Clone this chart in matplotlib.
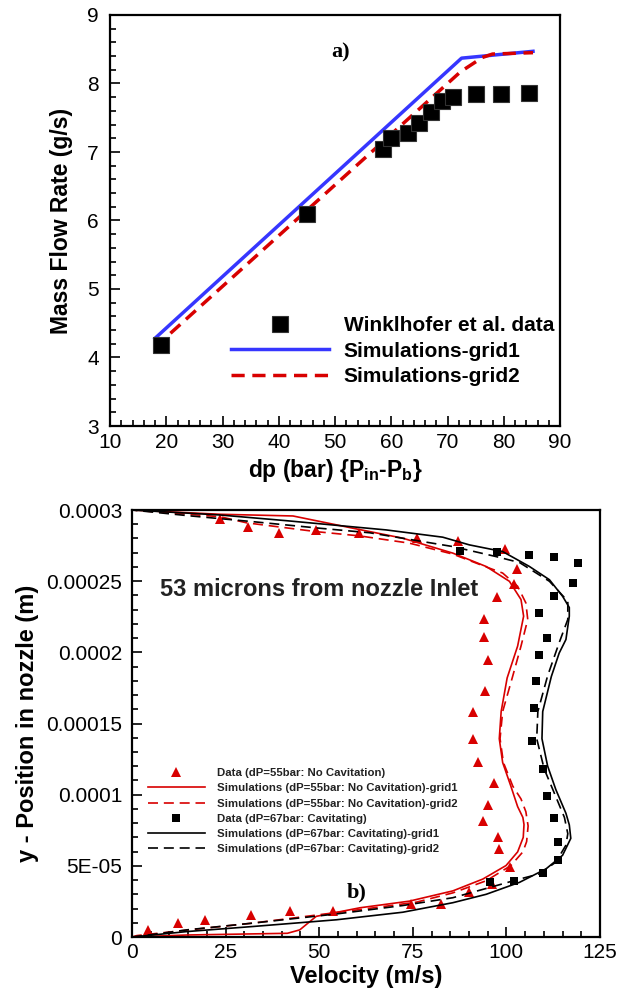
# Mass flow rate vs pressure drop, and velocity profiles in the nozzle
import numpy as np
import matplotlib
matplotlib.use('Agg')
import matplotlib.pyplot as plt
from matplotlib.ticker import MultipleLocator

plt.rcParams['font.family'] = ['Liberation Sans', 'DejaVu Sans']
plt.rcParams['mathtext.fontset'] = 'custom'
plt.rcParams['mathtext.rm'] = 'Liberation Sans:bold'
plt.rcParams['mathtext.bf'] = 'Liberation Sans:bold'

# ---- a) mass flow rate data ----
dp_data = [19, 45, 58.5, 60, 63, 65, 67, 69, 71, 75, 79.5, 84.5]
mfr_data = [4.18, 6.1, 7.05, 7.2, 7.28, 7.42, 7.58, 7.75, 7.8, 7.85, 7.85, 7.86]
dp_grid1 = [18, 72.5, 85.2]
mfr_grid1 = [4.28, 8.37, 8.47]
dp_grid2 = [18, 72.3, 76.2, 78, 85.2]
mfr_grid2 = [4.15, 8.17, 8.38, 8.43, 8.45]

# ---- b) velocity profiles (y in micrometres) ----
tri_v = [4.2, 12.3, 19.6, 31.9, 42.1, 53.7, 74.6, 82.4, 90, 96.1, 101, 98.1, 97.7, 93.7,
         95.2, 96.6, 92.5, 91, 91, 94.3, 95, 94.1, 94.1, 97.5, 101.9, 102.7, 99.5, 87.2,
         76.2, 60.6, 49.2, 39.3, 31, 23.5]
tri_y = [5, 9.8, 11.7, 15.2, 18.1, 18.1, 23.3, 23.3, 31.7, 37.1, 49.1, 62.1, 70, 81.5,
         92.4, 108.4, 122.6, 138.8, 158.4, 173, 194.4, 210.7, 223.5, 238.7, 248, 258.5,
         272.5, 278, 280, 284, 286, 284, 288, 294]
sq_v = [95.5, 102, 109.7, 113.9, 113.9, 112.8, 110.8, 109.9, 106.8, 107.5, 108, 108.8,
        110.8, 108.8, 112.8, 117.9, 119, 112.8, 106, 97.4, 87.5]
sq_y = [38.3, 39.5, 45, 53.8, 66.9, 83.4, 98.8, 117.9, 137.4, 161, 180, 198.1, 210.3,
        227.8, 239.4, 248.7, 262.7, 267.3, 268.5, 270.4, 271.5]

r1_v = [0, 14.6, 41.5, 44.8, 49.2, 60.8, 74.1, 85.7, 93.7, 99.9, 103, 104.5, 104.7, 104.4,
        103, 101.2, 99, 98.1, 98.6, 100.2, 103, 104.6, 103.9, 100.8, 94.6, 85.7, 72.3, 59,
        43, 23.5, 0]
r1_y = [0, 1.4, 2.6, 5, 14.5, 20.5, 25.2, 32.4, 40.7, 50.2, 59.8, 70, 79, 84, 91.6, 105.9,
        122.6, 139.3, 158.4, 182, 204.4, 225.4, 237.1, 249.9, 260.3, 269.7, 280.2, 287.2,
        295.8, 297, 300]
r2_v = [0, 1.3, 14.6, 32.4, 53.7, 66, 76, 85.7, 94.6, 101.2, 104.4, 105.4, 105.8, 105.2,
        103.9, 101.7, 99.2, 98.3, 99, 101.7, 103.9, 105.7, 105.2, 103, 99, 94.6, 85.7, 74.1,
        60.8, 49.2, 30.6, 23.5, 5.7, 0]
r2_y = [0, 1, 4.8, 9.8, 16.9, 21, 24.5, 31, 39.5, 50.2, 59.8, 67, 78, 88, 97, 106, 122.6,
        139.3, 158.4, 183.4, 204.4, 223.1, 234.7, 246.4, 255.7, 260, 269, 276.7, 281.8,
        284.8, 291, 295.3, 298.8, 300]
k1_v = [0, 1.3, 14.6, 32.4, 54.6, 72.3, 85.7, 94.6, 103.5, 110.6, 115, 117.2, 116.8, 115.9,
        113.2, 111, 109.5, 109.7, 112, 114.1, 115.9, 116.8, 116.8, 115, 111.5, 106.1, 99,
        90.1, 83, 67.9, 41.2, 23.5, 0]
k1_y = [0, 0.3, 3.8, 7.4, 12.1, 17.4, 24.1, 30, 38.4, 47.9, 57.4, 69.3, 78.8, 86.9, 103.6,
        120.2, 139.3, 158.4, 183, 199.5, 209, 225.4, 231.5, 239.4, 251, 260.4, 270.8,
        275.5, 280.9, 286, 292.5, 296.5, 300]
k2_v = [0, 1.3, 14.6, 32.4, 54.6, 72.3, 85.7, 94.6, 103.5, 108.8, 113.2, 115.9, 116.4,
        115.5, 112.4, 110.1, 108.1, 108.4, 111, 114.1, 116.4, 116.4, 111.5, 103.5, 97.2,
        85.7, 63.5, 50.1, 32.3, 15, 0]
k2_y = [0, 0.3, 5, 9.8, 16.2, 22.1, 27.6, 34.1, 40.7, 44.3, 52.6, 64.5, 72.6, 84, 103.6,
        118, 139.3, 158.4, 183.4, 206.8, 223.1, 235.9, 249.9, 263.1, 267.3, 274.3, 284,
        287.2, 291.8, 296, 300]

ylabels = ['0', '5E-05', '0.0001', '0.00015', '0.0002', '0.00025', '0.0003']

um = 1e-6
blue = '#3636ff'
red = '#d80000'

fig = plt.figure(figsize=(6.18, 9.96), dpi=100)
ax1 = fig.add_axes([110/618, 1-426/996, 450/618, 411/996])
ax2 = fig.add_axes([132/618, 1-937/996, 468/618, 427/996])

# ---- top plot ----
ax1.plot(dp_data, mfr_data, 's', color='black', ms=12, mec='#333333', mew=0.8,
         label='Winklhofer et al. data', zorder=3)
ax1.plot(dp_grid1, mfr_grid1, '-', color=blue, lw=2.5, label='Simulations-grid1')
ax1.plot(dp_grid2, mfr_grid2, '--', color=red, lw=2.5, dashes=(3.8, 2.2),
         label='Simulations-grid2')
ax1.set_xlim(10, 90)
ax1.set_ylim(3, 9)
ax1.xaxis.set_major_locator(MultipleLocator(10))
ax1.xaxis.set_minor_locator(MultipleLocator(2))
ax1.yaxis.set_major_locator(MultipleLocator(1))
ax1.yaxis.set_minor_locator(MultipleLocator(0.2))
ax1.text(51, 8.46, 'a)', fontsize=16, fontweight='bold', family='Liberation Serif',
         ha='center', va='center')
ax1.set_xlabel('dp (bar) {P$_{\\mathbf{in}}$-P$_{\\mathbf{b}}$}', fontsize=16.5,
               fontweight='bold')
ax1.set_ylabel('Mass Flow Rate (g/s)', fontsize=16.5, fontweight='bold')
ax1.xaxis.set_label_coords(0.5, -0.075)
ax1.yaxis.set_label_coords(-0.082, 0.5)
ax1.legend(loc='upper left', bbox_to_anchor=(0.269, 0.268), frameon=False,
           prop={'weight': 'bold', 'size': 15}, handlelength=4.7,
           handletextpad=0.7, labelspacing=0.32, borderpad=0, borderaxespad=0)

# ---- bottom plot ----
ax2.plot(tri_v, np.array(tri_y) * um, '^', color=red, ms=7, mew=0,
         label='Data (dP=55bar: No Cavitation)')
ax2.plot(r1_v, np.array(r1_y) * um, '-', color=red, lw=1.2,
         label='Simulations (dP=55bar: No Cavitation)-grid1')
ax2.plot(r2_v, np.array(r2_y) * um, '--', color=red, lw=1.2, dashes=(6, 3.5),
         label='Simulations (dP=55bar: No Cavitation)-grid2')
ax2.plot(sq_v, np.array(sq_y) * um, 's', color='black', ms=6, mew=0,
         label='Data (dP=67bar: Cavitating)')
ax2.plot(k1_v, np.array(k1_y) * um, '-', color='black', lw=1.2,
         label='Simulations (dP=67bar: Cavitating)-grid1')
ax2.plot(k2_v, np.array(k2_y) * um, '--', color='black', lw=1.2, dashes=(6, 3.5),
         label='Simulations (dP=67bar: Cavitating)-grid2')
ax2.set_xlim(0, 125)
ax2.set_ylim(0, 0.0003)
ax2.xaxis.set_major_locator(MultipleLocator(25))
ax2.xaxis.set_minor_locator(MultipleLocator(5))
ax2.set_yticks(np.arange(7) * 0.00005)
ax2.set_yticklabels(ylabels)
ax2.yaxis.set_minor_locator(MultipleLocator(0.00001))
ax2.text(7.5, 0.0002438, '53 microns from nozzle Inlet', fontsize=17,
         fontweight='bold', color='#222222', ha='left', va='center')
ax2.text(60, 0.0000316, 'b)', fontsize=16, fontweight='bold', family='Liberation Serif',
         ha='center', va='center')
ax2.set_xlabel('Velocity (m/s)', fontsize=17, fontweight='bold')
ax2.set_ylabel('y - Position in nozzle (m)', fontsize=17, fontweight='bold')
ax2.xaxis.set_label_coords(0.5, -0.066)
ax2.yaxis.set_label_coords(-0.199, 0.5)
leg = ax2.legend(loc='upper left', bbox_to_anchor=(0.034, 0.395), frameon=False,
                 prop={'weight': 'bold', 'size': 8.2}, handlelength=5.0,
                 handletextpad=1.1, labelspacing=0.45, borderpad=0, borderaxespad=0)
for t in leg.get_texts():
    t.set_color('#222222')

for ax in (ax1, ax2):
    for s in ax.spines.values():
        s.set_linewidth(1.6)
    ax.tick_params(which='both', direction='in', top=False, right=False, width=1.2,
                   labelsize=15)
    ax.tick_params(which='major', length=7)
    ax.tick_params(which='minor', length=4)
ax1.tick_params(axis='x', pad=5)
ax1.tick_params(axis='y', pad=8)
ax2.tick_params(axis='x', pad=4)
ax2.tick_params(axis='y', pad=7)

plt.savefig('out.png', dpi=100)
